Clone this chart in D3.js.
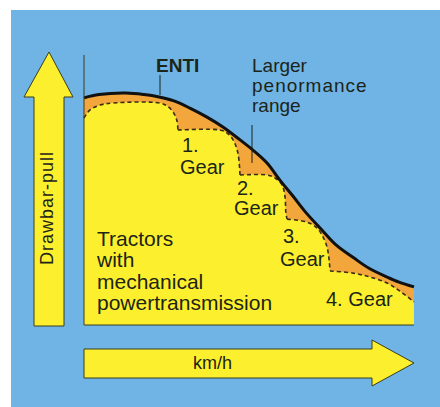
<!DOCTYPE html>
<html>
<head>
<meta charset="utf-8">
<script src="https://cdn.jsdelivr.net/npm/d3@7"></script>
<style>
  html, body { margin: 0; padding: 0; background: #ffffff; }
  svg { display: block; }
  text { font-family: "Liberation Sans", Arial, Helvetica, sans-serif; fill: #1d2418; }
</style>
</head>
<body>
<svg id="chart" width="440" height="407"></svg>
<script>
// ---- Data (abstract units: speed 0..110, drawbar-pull 0..90) ----
const speed = [0, 5, 14, 20, 25, 30, 35.3, 41, 46.3, 52, 56.3, 61, 65.3, 69.7, 73.7, 79, 84, 90, 95, 101, 105, 110];
const entiPull = [75.7, 76.8, 77.3, 76.8, 76, 74.7, 72.3, 69.3, 66, 61.7, 58.3, 54, 48.3, 42.9, 37.8, 32, 26.7, 22.3, 18.9, 16, 14.3, 12.7];

const gear0Speed = [0, 2, 5.3, 9.7, 25.3, 27.7, 29.7, 31, 31.3];
const gear0Pull  = [69, 71.7, 73.3, 74, 74, 73, 71, 68, 65];
const gear1Speed = [31.3, 45.3, 47.7, 49.7, 51.3, 52];
const gear1Pull  = [65, 65, 64, 61.7, 57.3, 50];
const gear2Speed = [52, 61, 63.7, 66, 67, 67.3, 67.7];
const gear2Pull  = [50, 50, 49, 46.7, 42.7, 37.3, 35.3];
const gear3Speed = [67.7, 74.3, 77.7, 79.7, 81, 81.7, 82];
const gear3Pull  = [35.3, 34.3, 32.3, 29.3, 26, 21.7, 18];
const gear4Speed = [82, 89.7, 95.3, 101, 105.3, 110];
const gear4Pull  = [18, 17.3, 16, 14, 11.3, 7.7];

const gearLabels = ["1.", "2.", "3.", "4."];
const gearWord = "Gear";
const entiLabel = "ENTI";
const rangeLabel = ["Larger", "penormance", "range"];
const tractorLabel = ["Tractors", "with", "mechanical", "powertransmission"];
const xAxisLabel = "km/h";
const yAxisLabel = "Drawbar-pull";

// ---- Setup ----
const svg = d3.select("#chart");
const BLUE = "#6fb4e4", YELLOW = "#fcf02e", ORANGE = "#f2a63c", OUTLINE = "#3b3d1c";

svg.append("rect").attr("x", 11).attr("y", 10).attr("width", 429).attr("height", 397).attr("fill", BLUE);

const x = d3.scaleLinear().domain([0, 110]).range([84, 414]);
const y = d3.scaleLinear().domain([0, 90]).range([325, 55]);

const entiData = speed.map((s, i) => [s, entiPull[i]]);
const gears = [
  [gear0Speed, gear0Pull], [gear1Speed, gear1Pull], [gear2Speed, gear2Pull],
  [gear3Speed, gear3Pull], [gear4Speed, gear4Pull]
].map(([sx, py]) => sx.map((s, i) => [s, py[i]]));

const curve = d3.curveCatmullRom.alpha(0.5);

// orange area under ENTI curve
const area = d3.area().x(d => x(d[0])).y0(y(0)).y1(d => y(d[1])).curve(curve);
svg.append("path").attr("d", area(entiData)).attr("fill", ORANGE);

// yellow area under gear steps
const line = d3.line().x(d => x(d[0])).y(d => y(d[1])).curve(curve);
let stepPath = gears.map((g, i) => {
  const p = line(g);
  return i === 0 ? p : "L" + p.slice(1);
}).join("");
stepPath += `L${x(110)},${y(0)}L${x(0)},${y(0)}Z`;
svg.append("path").attr("d", stepPath).attr("fill", YELLOW);

// dashed gear lines
gears.forEach(g => {
  svg.append("path").attr("d", line(g)).attr("fill", "none")
    .attr("stroke", "#3a2c12").attr("stroke-width", 1.6).attr("stroke-dasharray", "4,3");
});

// ENTI curve
svg.append("path").attr("d", line(entiData)).attr("fill", "none")
  .attr("stroke", "#111").attr("stroke-width", 3);

// axis lines
svg.append("line").attr("x1", x(0)).attr("x2", x(0)).attr("y1", 55).attr("y2", y(0))
  .attr("stroke", OUTLINE).attr("stroke-width", 1);
svg.append("line").attr("x1", x(0)).attr("x2", x(110)).attr("y1", y(0)).attr("y2", y(0))
  .attr("stroke", OUTLINE).attr("stroke-width", 1);

// arrows
svg.append("path")
  .attr("d", "M34,326 L34,97 L24,97 L49,52 L73,97 L64,97 L64,326 Z")
  .attr("fill", YELLOW).attr("stroke", OUTLINE).attr("stroke-width", 1);
svg.append("path")
  .attr("d", "M84,349 L372,349 L372,340 L414,363 L372,386 L372,378 L84,378 Z")
  .attr("fill", YELLOW).attr("stroke", OUTLINE).attr("stroke-width", 1);

// ENTI label + leader
svg.append("text").attr("x", 156).attr("y", 72).attr("font-size", 19).attr("font-weight", "bold").text(entiLabel);
svg.append("line").attr("x1", 160).attr("x2", 160).attr("y1", 75).attr("y2", 95)
  .attr("stroke", "#1d2418").attr("stroke-width", 1);

// Larger performance range
rangeLabel.forEach((t, i) => {
  svg.append("text").attr("x", 252).attr("y", 72 + i * 20).attr("font-size", 19)
    .attr("letter-spacing", i === 1 ? 1 : 0).text(t);
});
svg.append("line").attr("x1", 252).attr("x2", 252).attr("y1", 125).attr("y2", 163)
  .attr("stroke", "#1d2418").attr("stroke-width", 1);

// Gear labels
const gearPos = [[182, 152, 180, 174], [237, 195, 234, 215], [283, 243, 280, 266]];
gearPos.forEach((p, i) => {
  svg.append("text").attr("x", p[0]).attr("y", p[1]).attr("font-size", 20).text(gearLabels[i]);
  svg.append("text").attr("x", p[2]).attr("y", p[3]).attr("font-size", 20).text(gearWord);
});
svg.append("text").attr("x", 326).attr("y", 306).attr("font-size", 20).text(gearLabels[3] + " " + gearWord);

// Tractors label
tractorLabel.forEach((t, i) => {
  svg.append("text").attr("x", 97).attr("y", 246 + i * 21.3).attr("font-size", 21).text(t);
});

// axis labels
svg.append("text").attr("x", 193).attr("y", 369).attr("font-size", 18).text(xAxisLabel);
svg.append("text").attr("transform", "translate(53,208) rotate(-90)")
  .attr("text-anchor", "middle").attr("font-size", 18).attr("letter-spacing", 1).text(yAxisLabel);
</script>
</body>
</html>
